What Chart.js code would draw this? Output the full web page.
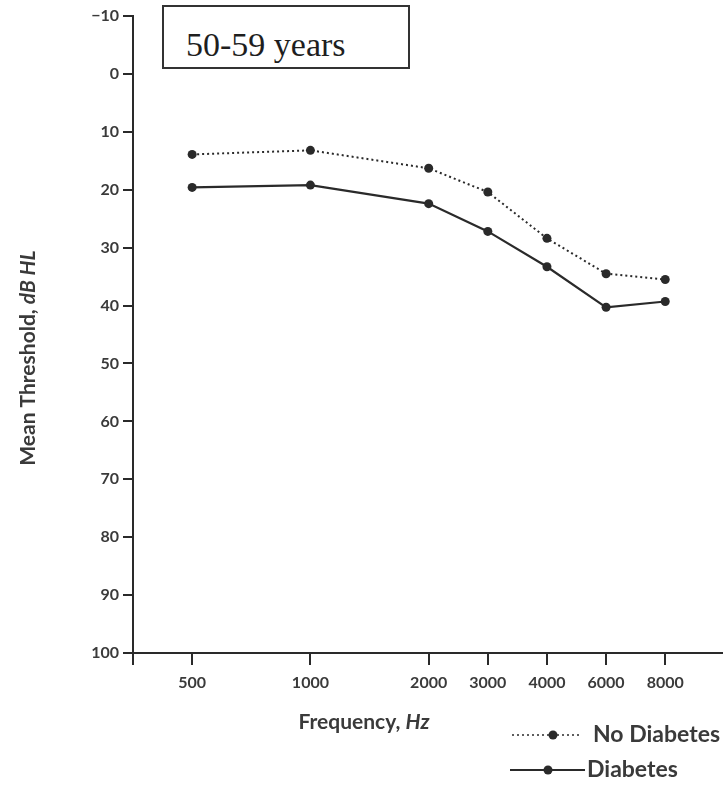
<!DOCTYPE html>
<html>
<head>
<meta charset="utf-8">
<script src="https://cdn.jsdelivr.net/npm/chart.js@4"></script>
<style>
  html,body{margin:0;padding:0;background:#fff;}
  #wrap{position:relative;width:728px;height:786px;}
  #title{position:absolute;left:162px;top:5px;height:60px;width:222px;border:2px solid #333;
    font-family:"Liberation Serif","Times New Roman",serif;font-size:34px;color:#1e1e1e;
    line-height:76px;padding-left:22px;box-sizing:content-box;background:#fff;overflow:hidden;}
</style>
</head>
<body>
<div id="wrap">
  <canvas id="c" width="728" height="786"></canvas>
  <div id="title">50-59 years</div>
</div>
<script>
// frequencies and their audiogram positions (octaves above 500 Hz, half-octave for 3k/6k)
const freqLabels = ['500','1000','2000','3000','4000','6000','8000'];
const freqPos = [0, 1, 2, 2.5, 3, 3.5, 4];
const noDiabetes = [13.9, 13.2, 16.3, 20.4, 28.4, 34.5, 35.5];
const diabetes = [19.6, 19.2, 22.4, 27.2, 33.3, 40.3, 39.3];
const yTicks = [-10, 0, 10, 20, 30, 40, 50, 60, 70, 80, 90, 100];

const ink = '#2a2a2a';
const txt = '#3a3a3a';
const fam = 'Lato, "Open Sans", sans-serif';
const tickFont = {family:fam, size:16, weight:'bold'};

const pts = (vals)=>vals.map((v,i)=>({x:freqPos[i], y:v}));

function mixed(ctx, parts, cx, cy, size){
  // parts: [[text, italic], ...] centred on cx
  let widths = parts.map(p=>{ ctx.font = (p[1]?'italic ':'')+'bold '+size+'px '+fam; return ctx.measureText(p[0]).width; });
  let x = cx - widths.reduce((a,b)=>a+b,0)/2;
  parts.forEach((p,i)=>{ ctx.font = (p[1]?'italic ':'')+'bold '+size+'px '+fam; ctx.fillText(p[0], x, cy); x += widths[i]; });
}

// axis titles with italic unit + legend in the bottom right
const extras = {
  id:'extras',
  afterDraw(chart){
    const ctx = chart.ctx;
    ctx.save();
    ctx.fillStyle = txt;
    ctx.textBaseline = 'middle';
    ctx.textAlign = 'left';
    ctx.translate(28, 358);
    ctx.rotate(-Math.PI/2);
    mixed(ctx, [['Mean Threshold, ',false],['dB HL',true]], 0, 0, 21);
    ctx.restore();

    ctx.save();
    ctx.fillStyle = txt;
    ctx.textBaseline = 'middle';
    ctx.textAlign = 'left';
    mixed(ctx, [['Frequency, ',false],['Hz',true]], 364, 722, 21);

    // legend
    ctx.strokeStyle = ink;
    ctx.fillStyle = ink;
    ctx.lineWidth = 1.5;
    ctx.setLineDash([2,3]);
    ctx.beginPath(); ctx.moveTo(512,735); ctx.lineTo(582,735); ctx.stroke();
    ctx.setLineDash([]);
    ctx.beginPath(); ctx.arc(553,735,4.5,0,Math.PI*2); ctx.fill();
    ctx.lineWidth = 2;
    ctx.beginPath(); ctx.moveTo(510,770); ctx.lineTo(585,770); ctx.stroke();
    ctx.beginPath(); ctx.arc(548,770,4.5,0,Math.PI*2); ctx.fill();
    ctx.fillStyle = txt;
    ctx.font = 'bold 23px '+fam;
    ctx.fillText('No Diabetes', 593, 735);
    ctx.fillText('Diabetes', 587, 770);
    ctx.restore();
  }
};

new Chart(document.getElementById('c'), {
  type:'line',
  data:{datasets:[
    {label:'No Diabetes', data:pts(noDiabetes), borderColor:ink, backgroundColor:ink,
     borderWidth:2, borderDash:[2,3], pointRadius:4.5, pointBackgroundColor:ink, pointBorderWidth:0, tension:0},
    {label:'Diabetes', data:pts(diabetes), borderColor:ink, backgroundColor:ink,
     borderWidth:2.2, pointRadius:4.5, pointBackgroundColor:ink, pointBorderWidth:0, tension:0},
  ]},
  options:{
    responsive:false, animation:false,
    layout:{padding:{top:16, right:6, left:0, bottom:0}},
    plugins:{legend:{display:false}, tooltip:{enabled:false}},
    scales:{
      x:{
        type:'linear', min:-0.5, max:4.48,
        afterBuildTicks(s){ s.ticks = [{value:-0.5}].concat(freqPos.map(v=>({value:v}))); },
        afterFit(s){ s.height = 786-653; },
        ticks:{color:txt, font:tickFont, padding:8, autoSkip:false, maxRotation:0,
          callback:(v)=>{ const i = freqPos.indexOf(v); return i<0 ? '' : freqLabels[i]; }},
        grid:{drawOnChartArea:false, drawTicks:true, tickLength:12, color:ink, lineWidth:2},
        border:{display:true, color:ink, width:2}
      },
      y:{
        type:'linear', reverse:true, min:-10, max:100,
        afterBuildTicks(s){ s.ticks = yTicks.map(v=>({value:v})); },
        afterFit(s){ s.width = 133; },
        ticks:{color:txt, font:tickFont, padding:4,
          callback:(v)=> v<0 ? '\u2212'+Math.abs(v) : String(v)},
        grid:{drawOnChartArea:false, drawTicks:true, tickLength:10, color:ink, lineWidth:2},
        border:{display:true, color:ink, width:2}
      }
    }
  },
  plugins:[extras]
});
</script>
</body>
</html>
